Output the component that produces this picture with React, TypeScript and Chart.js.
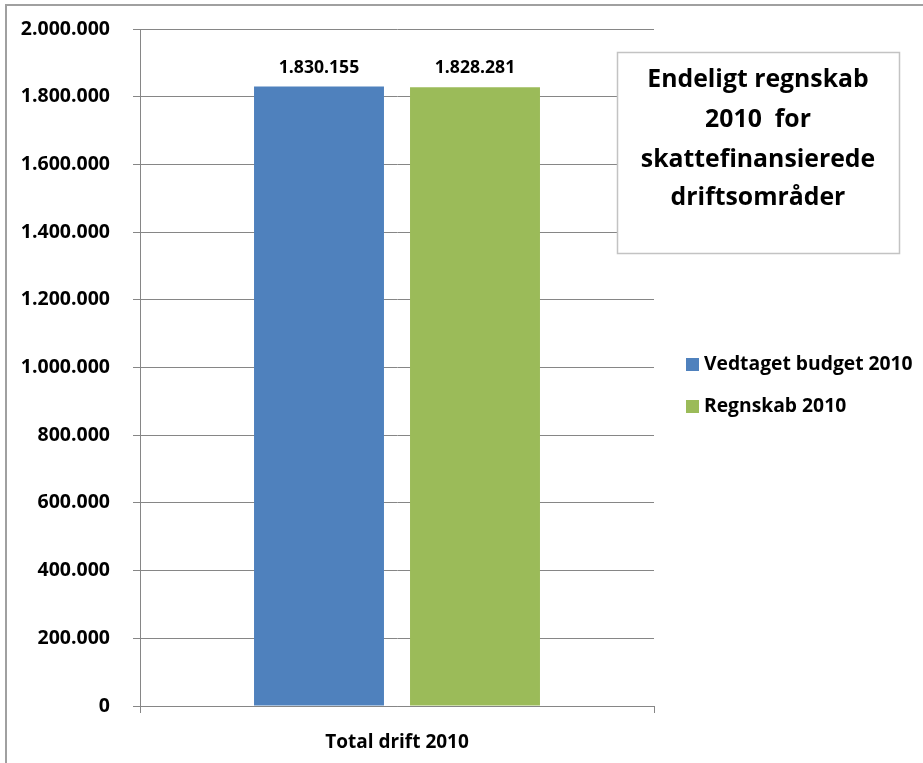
import React, { useEffect, useRef } from "react";
import { Chart, registerables } from "chart.js";

Chart.register(...registerables);

const categories = ["Total drift 2010"];
const seriesLabels = ["Vedtaget budget 2010", "Regnskab 2010"];
const budgetValues = [1830155];
const accountValues = [1828281];
const seriesColors = ["#4F81BD", "#9BBB59"];
const titleLines = ["Endeligt regnskab", "2010  for", "skattefinansierede", "driftsområder"];
const yMin = 0;
const yMax = 2000000;
const yStep = 200000;

const FONT = "'Open Sans', sans-serif";

const fmt = (v: number) =>
  Math.round(v)
    .toString()
    .replace(/\B(?=(\d{3})+(?!\d))/g, ".");

const dataLabelPlugin = {
  id: "dataLabels",
  afterDatasetsDraw(chart: any) {
    const ctx = chart.ctx;
    ctx.save();
    ctx.font = `bold 17.6px ${FONT}`;
    ctx.fillStyle = "#000";
    ctx.textAlign = "center";
    ctx.textBaseline = "middle";
    chart.data.datasets.forEach((ds: any, i: number) => {
      const meta = chart.getDatasetMeta(i);
      meta.data.forEach((bar: any, j: number) => {
        ctx.fillText(fmt(ds.data[j]), bar.x, bar.y - 19);
      });
    });
    ctx.restore();
  },
};

const boxPlugin = {
  id: "boxAndLegend",
  afterDraw(chart: any) {
    const ctx = chart.ctx;
    ctx.save();
    ctx.strokeStyle = "#c3c3c3";
    ctx.lineWidth = 1.5;
    ctx.fillStyle = "#fff";
    ctx.fillRect(617, 52, 282, 201);
    ctx.strokeRect(617.5, 52.5, 282, 201);
    ctx.fillStyle = "#000";
    ctx.font = `bold 24.8px ${FONT}`;
    ctx.textAlign = "center";
    ctx.textBaseline = "middle";
    const ys = [80, 120, 160, 198];
    titleLines.forEach((t, i) => ctx.fillText(t, 758, ys[i]));
    ctx.font = `bold 19.3px ${FONT}`;
    ctx.textAlign = "left";
    const ly = [365, 407];
    chart.data.datasets.forEach((ds: any, i: number) => {
      ctx.fillStyle = ds.backgroundColor;
      ctx.fillRect(686, ly[i] - 7, 13, 13);
      ctx.fillStyle = "#000";
      ctx.fillText(ds.label, 704, ly[i]);
    });
    ctx.restore();
  },
};

export default function App() {
  const ref = useRef<HTMLCanvasElement | null>(null);
  useEffect(() => {
    document.body.style.margin = "0";
    const chart = new Chart(ref.current as HTMLCanvasElement, {
      type: "bar",
      data: {
        labels: categories,
        datasets: [
          { label: seriesLabels[0], data: budgetValues, backgroundColor: seriesColors[0] },
          { label: seriesLabels[1], data: accountValues, backgroundColor: seriesColors[1] },
        ],
      },
      options: {
        animation: false,
        responsive: false,
        maintainAspectRatio: false,
        layout: { padding: { left: 0, right: 269, top: 29, bottom: 0 } },
        datasets: { bar: { categoryPercentage: 0.607, barPercentage: 0.833 } },
        plugins: { legend: { display: false }, tooltip: { enabled: false } },
        scales: {
          x: {
            offset: true,
            grid: { display: true, drawOnChartArea: false, color: "#868686", tickLength: 7, offset: true },
            border: { display: true, color: "#868686", width: 1 },
            ticks: { color: "#000", font: { family: FONT, weight: "bold", size: 19 }, padding: 18 },
            afterFit(scale: any) {
              scale.height = 57;
              scale.paddingLeft = 0;
              scale.paddingRight = 0;
            },
          },
          y: {
            min: yMin,
            max: yMax,
            ticks: {
              stepSize: yStep,
              color: "#000",
              font: { family: FONT, weight: "bold", size: 19.5 },
              padding: 23,
              callback: (v: any) => fmt(Number(v)),
            },
            grid: { color: "#868686", tickLength: 7, lineWidth: 1 },
            border: { display: true, color: "#868686", width: 1 },
            afterFit(scale: any) {
              scale.width = 140;
              scale.paddingTop = 0;
              scale.paddingBottom = 0;
            },
          },
        },
      },
      plugins: [dataLabelPlugin, boxPlugin],
    } as any);
    return () => chart.destroy();
  }, []);
  return (
    <div style={{ position: "absolute", left: 0, top: 0, width: 923, height: 763, background: "#fff" }}>
      <canvas ref={ref} width={923} height={763} style={{ position: "absolute", left: 0, top: 0 }} />
      <div
        style={{
          position: "absolute",
          left: 5,
          top: 4,
          right: 0,
          bottom: 0,
          borderTop: "2px solid #a0a0a0",
          borderLeft: "2px solid #a0a0a0",
          pointerEvents: "none",
        }}
      />
    </div>
  );
}
